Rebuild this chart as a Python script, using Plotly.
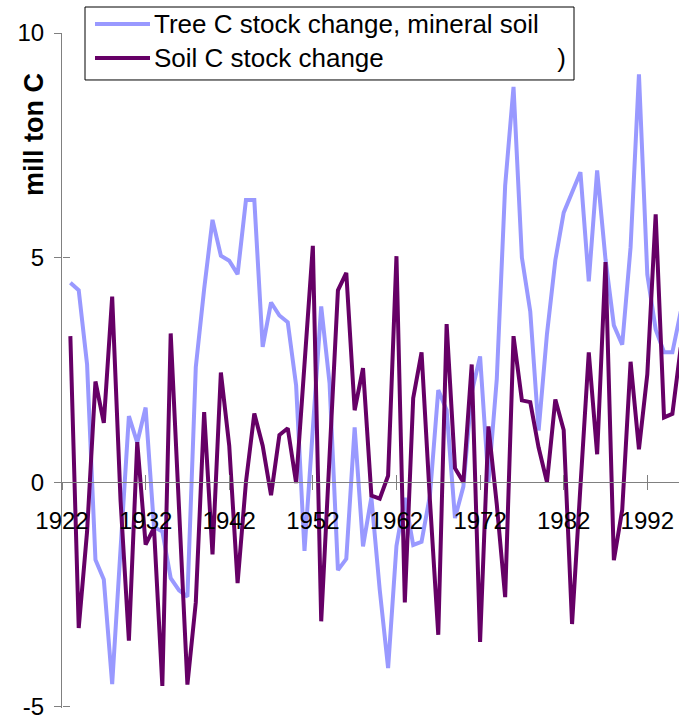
import plotly.graph_objects as go

years = list(range(1923, 1997))

tree_c = [4.44, 4.27, 2.62, -1.73, -2.17, -4.50, -1.5, 1.47, 0.88, 1.66,
          -1.0, -1.1, -2.14, -2.41, -2.55, 2.56, 4.3, 5.84, 5.04, 4.93,
          4.63, 6.28, 6.28, 3.01, 4.0, 3.71, 3.56, 2.15, -1.53, 1.2,
          3.91, 2.2, -1.96, -1.71, 1.22, -1.43, -0.34, -2.4, -4.14, -1.42,
          -0.35, -1.4, -1.33, -0.3, 2.05, 1.6, -0.8, -0.1, 2.0, 2.8,
          0.0, 2.3, 6.6, 8.8, 5.0, 3.8, 1.15, 3.3, 4.94, 6.0,
          6.45, 6.9, 4.47, 6.94, 4.96, 3.49, 3.06, 5.23, 9.08, 4.62,
          3.40, 2.89, 2.89, 3.8]

soil_c = [3.25, -3.25, -1.1, 2.24, 1.32, 4.13, -0.4, -3.53, 0.89, -1.39,
          -1.02, -4.54, 3.31, -0.8, -4.51, -2.68, 1.56, -1.61, 2.44, 0.81,
          -2.25, 0.0, 1.53, 0.81, -0.29, 1.05, 1.2, -0.02, 2.6, 5.26,
          -3.1, 0.6, 4.27, 4.66, 1.6, 2.54, -0.3, -0.37, 0.14, 5.03,
          -2.68, 1.87, 2.89, -0.4, -3.4, 3.52, 0.31, 0.0, 2.62, -3.56,
          1.24, -0.5, -2.56, 3.25, 1.82, 1.78, 0.77, 0.0, 1.84, 1.16,
          -3.16, -0.1, 2.89, 0.62, 4.9, -1.74, -0.62, 2.68, 0.73, 2.4,
          5.96, 1.44, 1.52, 3.0]

series_names = ["Tree C stock change, mineral soil",
                "Soil C stock change" + "\u00a0" * 24 + ")"]
series_colors = ["#9999FF", "#660066"]
y_title = "mill ton C"
x_ticks = [1922, 1932, 1942, 1952, 1962, 1972, 1982, 1992]
y_ticks = [-5, 0, 5, 10]

FONT = "Liberation Sans, Arial, sans-serif"
AX = "#808080"
x_range = [1922, 1995.79]
y_range = [-5.03, 10]
zero_pos = (0 - y_range[0]) / (y_range[1] - y_range[0])

# plot area in pixels (for placing the hand-drawn legend box)
PPU = 674 / 15.0
L, R, T = 62, 679, 33
B = 707 + 0.03 * PPU
def px(x):
    return (x - L) / (R - L)
def py(y):
    return (B - y) / (B - T)

fig = go.Figure()
fig.add_trace(go.Scatter(x=years, y=tree_c, mode="lines", name=series_names[0],
                         line=dict(color=series_colors[0], width=4),
                         xaxis="x", yaxis="y", showlegend=False))
fig.add_trace(go.Scatter(x=years, y=soil_c, mode="lines", name=series_names[1],
                         line=dict(color=series_colors[1], width=4),
                         xaxis="x2", yaxis="y2", showlegend=False))

shapes = [dict(type="rect", xref="paper", yref="paper",
               x0=px(85), x1=px(574), y0=py(80), y1=py(7),
               line=dict(color="black", width=1), fillcolor="white", layer="above")]
annotations = []
for i, (nm, col) in enumerate(zip(series_names, series_colors)):
    yy = 24 + 34 * i
    shapes.append(dict(type="line", xref="paper", yref="paper",
                       x0=px(95), x1=px(150), y0=py(yy), y1=py(yy),
                       line=dict(color=col, width=4), layer="above"))
    annotations.append(dict(text=nm, xref="paper", yref="paper",
                            x=px(152), y=py(yy), xanchor="left", yanchor="middle",
                            showarrow=False,
                            font=dict(family=FONT, size=26, color="black")))

annotations.append(dict(text="<b>" + y_title + "</b>", textangle=-90,
                        xref="paper", yref="paper",
                        x=px(34), y=py(135),
                        xanchor="center", yanchor="middle", showarrow=False,
                        font=dict(family=FONT, size=27, color="black")))

common_x = dict(range=x_range, anchor="free", position=zero_pos,
                tickmode="array", tickvals=x_ticks, ticktext=[str(v) for v in x_ticks],
                ticklen=7, tickcolor=AX, tickwidth=1,
                showgrid=False, zeroline=False)
common_y = dict(range=y_range, tickmode="array", tickvals=y_ticks,
                ticktext=[str(v) for v in y_ticks],
                ticklen=7, tickcolor=AX, tickwidth=1,
                showgrid=False, zeroline=False)

fig.update_layout(
    width=679, height=719,
    margin=dict(l=L, r=679 - R, t=T, b=719 - B),
    paper_bgcolor="white", plot_bgcolor="white",
    font=dict(family=FONT, size=24, color="black"),
    showlegend=False,
    xaxis=dict(**common_x, showline=True, linecolor=AX, linewidth=1,
               ticks="outside", ticklabelstandoff=10, ticklabeloverflow="allow",
               tickfont=dict(family=FONT, size=24, color="black")),
    xaxis2=dict(**common_x, overlaying="x", showline=False, ticks="inside",
                showticklabels=False),
    yaxis=dict(**common_y, showline=True, linecolor=AX, linewidth=1,
               ticks="outside", ticklabelstandoff=5, ticklabeloverflow="allow",
               tickfont=dict(family=FONT, size=24, color="black")),
    yaxis2=dict(**common_y, overlaying="y", anchor="free", position=0,
                showline=False, ticks="inside", showticklabels=False),
    shapes=shapes,
    annotations=annotations,
)

fig.write_html("out.html")
